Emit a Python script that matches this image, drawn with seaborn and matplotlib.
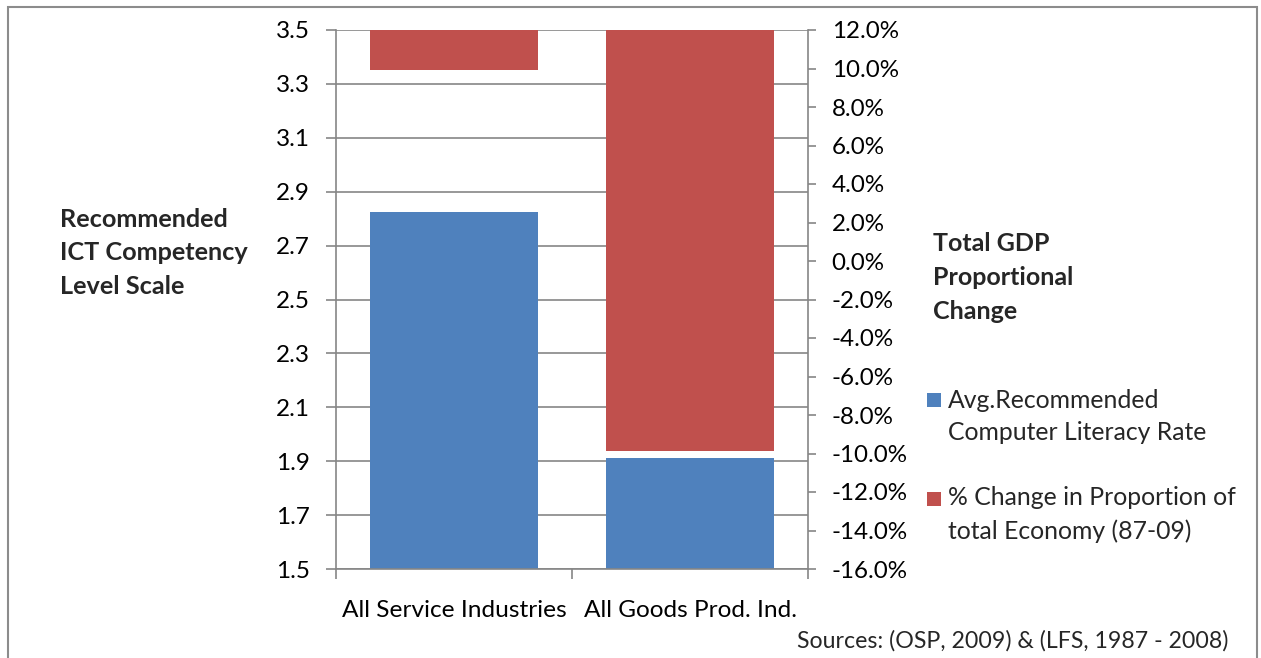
import matplotlib
matplotlib.use("Agg")
import matplotlib.pyplot as plt
from matplotlib.patches import Rectangle
from matplotlib.ticker import MultipleLocator, FuncFormatter
import numpy as np
import pandas as pd
import seaborn as sns

# Chart data
categories = ["All Service Industries", "All Goods Prod. Ind."]
literacy_rate = [2.825, 1.912]           # recommended ICT competency level
gdp_share_change = [9.9, -9.85]          # % change in proportion of total economy
series_labels = ["Avg.Recommended\nComputer Literacy Rate",
                 "% Change in Proportion of\ntotal Economy (87-09)"]
left_ticks = [1.5, 1.7, 1.9, 2.1, 2.3, 2.5, 2.7, 2.9, 3.1, 3.3, 3.5]

BLUE = "#4F81BD"
RED = "#C0504D"
GRID = "#868686"
FRAME = "#8C8C8C"

sns.set_theme(style="white")
plt.rcParams["font.family"] = ["Lato", "DejaVu Sans"]

W, H = 1261, 658
fig = plt.figure(figsize=(W / 100, H / 100), dpi=100)

def fx(px):
    return px / W

def fy(py):
    return 1 - py / H

ax = fig.add_axes([fx(336), fy(569), fx(808) - fx(336), fy(30) - fy(569)])

df = pd.DataFrame({"category": categories, "rate": literacy_rate})
sns.barplot(data=df, x="category", y="rate", order=categories, color=BLUE,
            saturation=1, width=0.716, ax=ax, linewidth=0)
ax.set_xlim(-0.5, 1.5)
ax.set_ylim(left_ticks[0], left_ticks[-1])
ax.set_yticks(left_ticks)
ax.yaxis.set_major_formatter(FuncFormatter(lambda v, _: f"{v:.1f}"))
ax.set_axisbelow(True)
ax.yaxis.grid(True, color=GRID, linewidth=1.2)
ax.xaxis.grid(False)
ax.set_xlabel("")
ax.set_ylabel("")

for side in ("top", "right"):
    ax.spines[side].set_visible(False)
for side in ("left", "bottom"):
    ax.spines[side].set_color(GRID)
    ax.spines[side].set_linewidth(1.2)

ax.tick_params(axis="y", left=True, direction="out", length=7, width=1.2,
               color=GRID, labelsize=17.5, pad=12, labelcolor="black")
ax.set_xticks([-0.5, 0.5, 1.5], minor=True)
ax.tick_params(axis="x", which="minor", bottom=True, direction="out",
               length=7, width=1.2, color=GRID)
ax.tick_params(axis="x", which="major", bottom=False, length=0,
               labelsize=17.6, pad=22, labelcolor="black")

# Secondary axis: bars hang from the top of the percentage scale
ax2 = ax.twinx()
ax2.set_ylim(-16, 12)
top = ax2.get_ylim()[1]
xpos = np.arange(len(categories))
vals = np.array(gdp_share_change)
ax2.bar(xpos, vals - top, bottom=top, width=0.716, color=RED, linewidth=0)
ax2.yaxis.set_major_locator(MultipleLocator(2))
ax2.yaxis.set_major_formatter(FuncFormatter(lambda v, _: f"{v:.1f}%"))
ax2.grid(False)
for side in ("top", "left", "bottom"):
    ax2.spines[side].set_visible(False)
ax2.spines["right"].set_color(GRID)
ax2.spines["right"].set_linewidth(1.2)
ax2.tick_params(axis="y", right=True, direction="out", length=6, width=1.2,
                color=GRID, labelsize=17.4, pad=11, labelcolor="black")

# Axis titles
fig.text(fx(60), fy(253), "Recommended\nICT Competency\nLevel Scale",
         ha="left", va="center", fontsize=18.2, fontweight="bold", linespacing=1.56)
fig.text(fx(933), fy(277.5), "Total GDP\nProportional\nChange",
         ha="left", va="center", fontsize=18.0, fontweight="bold", linespacing=1.56)

# Legend
legend_rows = [(BLUE, 393, 400, series_labels[0]), (RED, 492, 498, series_labels[1])]
for color, sq_top, ypx, label in legend_rows:
    fig.patches.append(Rectangle((fx(927), fy(sq_top + 14)), fx(14), 14 / H,
                                 transform=fig.transFigure,
                                 facecolor=color, edgecolor="none"))
    fig.text(fx(948), fy(ypx + 16.5), label, ha="left", va="center",
             fontsize=17.8, linespacing=1.5)

# Source note
fig.text(fx(1228), fy(641), "Sources: (OSP, 2009) & (LFS, 1987 - 2008)",
         ha="right", va="center", fontsize=16.7)

# Chart frame
fig.patches.append(Rectangle((fx(8), -0.05), fx(1257) - fx(8), fy(7) + 0.05,
                             transform=fig.transFigure, fill=False,
                             edgecolor=FRAME, linewidth=1.5))

fig.savefig("out.png", dpi=100)
